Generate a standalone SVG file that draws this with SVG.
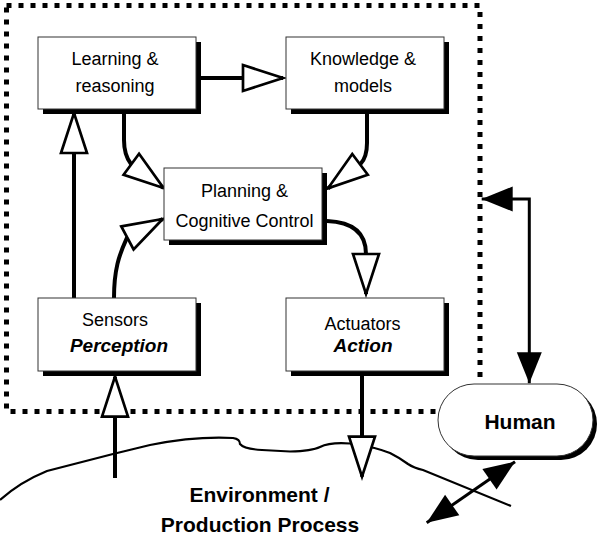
<svg xmlns="http://www.w3.org/2000/svg" width="600" height="537" viewBox="0 0 600 537">
<style>
.box{fill:#fff;stroke:#333;stroke-width:1}
.shadow{fill:#000}
.t{font-family:"Liberation Sans",Arial,sans-serif;font-size:18px;fill:#000;text-anchor:middle}
.bi{font-weight:bold;font-style:italic;font-size:19px}
.b{font-weight:bold;font-size:21px}
.conn{fill:none;stroke:#000;stroke-width:4}
.thin{fill:none;stroke:#000;stroke-width:3}
.cloud{fill:none;stroke:#000;stroke-width:2.2}
.border{fill:none;stroke:#000;stroke-width:5;stroke-dasharray:5 7}
</style>
<defs>
<marker id="open" markerUnits="userSpaceOnUse" markerWidth="48" markerHeight="34" refX="43" refY="16" orient="auto" overflow="visible">
<path d="M3,3 L43,16 L3,29 Z" fill="#fff" stroke="#000" stroke-width="2.7" stroke-linejoin="miter"/>
</marker>
<marker id="fill" markerUnits="userSpaceOnUse" markerWidth="36" markerHeight="30" refX="33" refY="14.5" orient="auto-start-reverse" overflow="visible">
<path d="M2,2 L33,14.5 L2,27 Z" fill="#000"/>
</marker>
</defs>

<rect class="border" x="6.5" y="5.5" width="473.5" height="406"/>

<path class="cloud" d="M0,500 Q20,482 47,471 L113,454 L150,445 Q195,436 233,438 Q240,439 240,444 Q244,449 262,450 L290,451.5 Q312,451 320,447 Q330,442 350,443.5 Q375,447 390,453 Q400,458 408,464 Q414,468 423,470 L511,506"/>

<g id="connectors">
<path class="conn" d="M201,78 L283,78" marker-end="url(#open)"/>
<path class="conn" d="M74,298 L74,113" marker-end="url(#open)"/>
<path class="conn" d="M124,114 L124,140 Q124,155 131,164 L163.5,188" marker-end="url(#open)"/>
<path class="conn" d="M367,114 L367,143 Q367,157 360.5,164 L328,188.3" marker-end="url(#open)"/>
<path class="conn" d="M114,298 C114,270 119,255 126.7,238.3 L162.7,219" marker-end="url(#open)"/>
<path class="conn" d="M327,221 C352,222 366,232 366,254 L366,294" marker-end="url(#open)"/>
<path class="conn" d="M362,376 L362,476.7" marker-end="url(#open)"/>
<path class="conn" d="M115,478 L115,376.7" marker-end="url(#open)"/>
<path class="thin" d="M481.7,199 H529.3 V383.3" marker-start="url(#fill)" marker-end="url(#fill)"/>
<path class="thin" d="M426.7,522.7 L515,461.7" marker-start="url(#fill)" marker-end="url(#fill)"/>
</g>

<g id="learning">
<rect class="shadow" x="43" y="42" width="158" height="72"/>
<rect class="box" x="38" y="37" width="158" height="72"/>
<text class="t" x="115" y="65">Learning &amp;</text>
<text class="t" x="115" y="92">reasoning</text>
</g>
<g id="knowledge">
<rect class="shadow" x="291" y="42" width="158" height="72"/>
<rect class="box" x="286" y="37" width="158" height="72"/>
<text class="t" x="363" y="65">Knowledge &amp;</text>
<text class="t" x="363" y="92">models</text>
</g>
<g id="planning">
<rect class="shadow" x="169" y="173" width="158" height="72"/>
<rect class="box" x="164" y="168" width="158" height="72"/>
<text class="t" x="244.5" y="197">Planning &amp;</text>
<text class="t" x="244.5" y="226.5">Cognitive Control</text>
</g>
<g id="sensors">
<rect class="shadow" x="43" y="303" width="158" height="73"/>
<rect class="box" x="38" y="298" width="158" height="73"/>
<text class="t" x="115" y="326">Sensors</text>
<text class="t bi" x="119" y="352">Perception</text>
</g>
<g id="actuators">
<rect class="shadow" x="291" y="303" width="158" height="73"/>
<rect class="box" x="286" y="298" width="158" height="73"/>
<text class="t" x="362.5" y="330">Actuators</text>
<text class="t bi" x="363" y="352">Action</text>
</g>
<g id="human">
<rect class="shadow" x="442" y="388" width="155" height="72" rx="36"/>
<rect class="box" x="438" y="384" width="155" height="72" rx="36"/>
<text class="t b" x="520" y="429">Human</text>
</g>
<g id="environment">
<text class="t b" x="259.5" y="502">Environment /</text>
<text class="t b" x="260" y="532">Production Process</text>
</g>
</svg>
